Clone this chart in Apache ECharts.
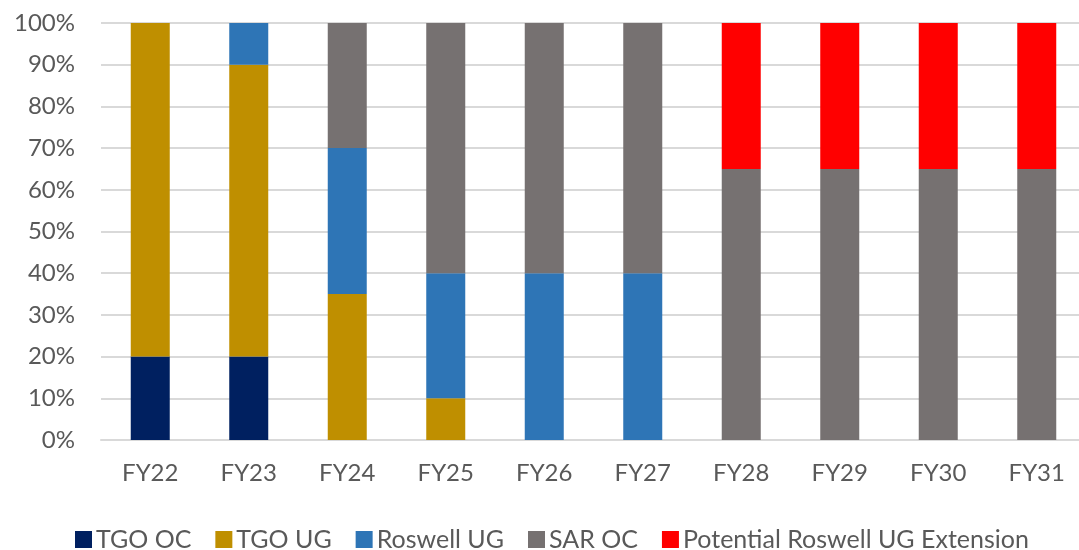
<!DOCTYPE html>
<html>
<head>
<meta charset="utf-8">
<script src="https://cdn.jsdelivr.net/npm/echarts@6/dist/echarts.min.js"></script>
<style>
  html, body { margin: 0; padding: 0; background: #fff; }
  #chart { width: 1079px; height: 550px; }
</style>
</head>
<body>
<div id="chart"></div>
<script>
// Fiscal years on the category axis
const years = ['FY22', 'FY23', 'FY24', 'FY25', 'FY26', 'FY27', 'FY28', 'FY29', 'FY30', 'FY31'];

// Share of production by source, percent
const tgoOC = [20, 20, 0, 0, 0, 0, 0, 0, 0, 0];
const tgoUG = [80, 70, 35, 10, 0, 0, 0, 0, 0, 0];
const roswellUG = [0, 10, 35, 30, 40, 40, 0, 0, 0, 0];
const sarOC = [0, 0, 30, 60, 60, 60, 65, 65, 65, 65];
const roswellExt = [0, 0, 0, 0, 0, 0, 35, 35, 35, 35];

const yTicks = [0, 10, 20, 30, 40, 50, 60, 70, 80, 90, 100];

const FONT = 'Lato, "Noto Sans", sans-serif';
const TEXT = '#595959';

function mk(name, data, color) {
  return {
    name: name,
    type: 'bar',
    stack: 'share',
    data: data.map(v => (v === 0 ? null : v)),
    barWidth: 39,
    itemStyle: { color: color },
    emphasis: { disabled: true }
  };
}

const chart = echarts.init(document.getElementById('chart'));
chart.setOption({
  animation: false,
  textStyle: { fontFamily: FONT },
  // plot area runs a little past the right edge of the canvas
  grid: { left: 101, width: 985, top: 23, bottom: 110, containLabel: false, outerBoundsMode: 'none' },
  legend: {
    top: 522,
    left: 70,
    itemWidth: 17,
    itemHeight: 17,
    itemGap: 24,
    icon: 'rect',
    textStyle: { color: TEXT, fontSize: 25, fontFamily: FONT, padding: [0, 0, 0, -1] },
    data: ['TGO OC', 'TGO UG', 'Roswell UG', 'SAR OC', 'Potential Roswell UG Extension']
  },
  xAxis: {
    type: 'category',
    data: years,
    axisLine: { show: true, lineStyle: { color: '#d9d9d9', width: 2 } },
    axisTick: { show: false },
    axisLabel: { color: TEXT, fontSize: 24, margin: 21, fontFamily: FONT }
  },
  yAxis: {
    type: 'value',
    min: yTicks[0],
    max: yTicks[yTicks.length - 1],
    interval: 10,
    axisLine: { show: false },
    axisTick: { show: false },
    splitLine: { lineStyle: { color: '#d9d9d9', width: 2 } },
    axisLabel: { color: TEXT, fontSize: 24, margin: 26, fontFamily: FONT, formatter: '{value}%' }
  },
  series: [
    mk('TGO OC', tgoOC, '#002060'),
    mk('TGO UG', tgoUG, '#BF8F00'),
    mk('Roswell UG', roswellUG, '#2E75B6'),
    mk('SAR OC', sarOC, '#767171'),
    mk('Potential Roswell UG Extension', roswellExt, '#FF0000')
  ]
});
</script>
</body>
</html>
